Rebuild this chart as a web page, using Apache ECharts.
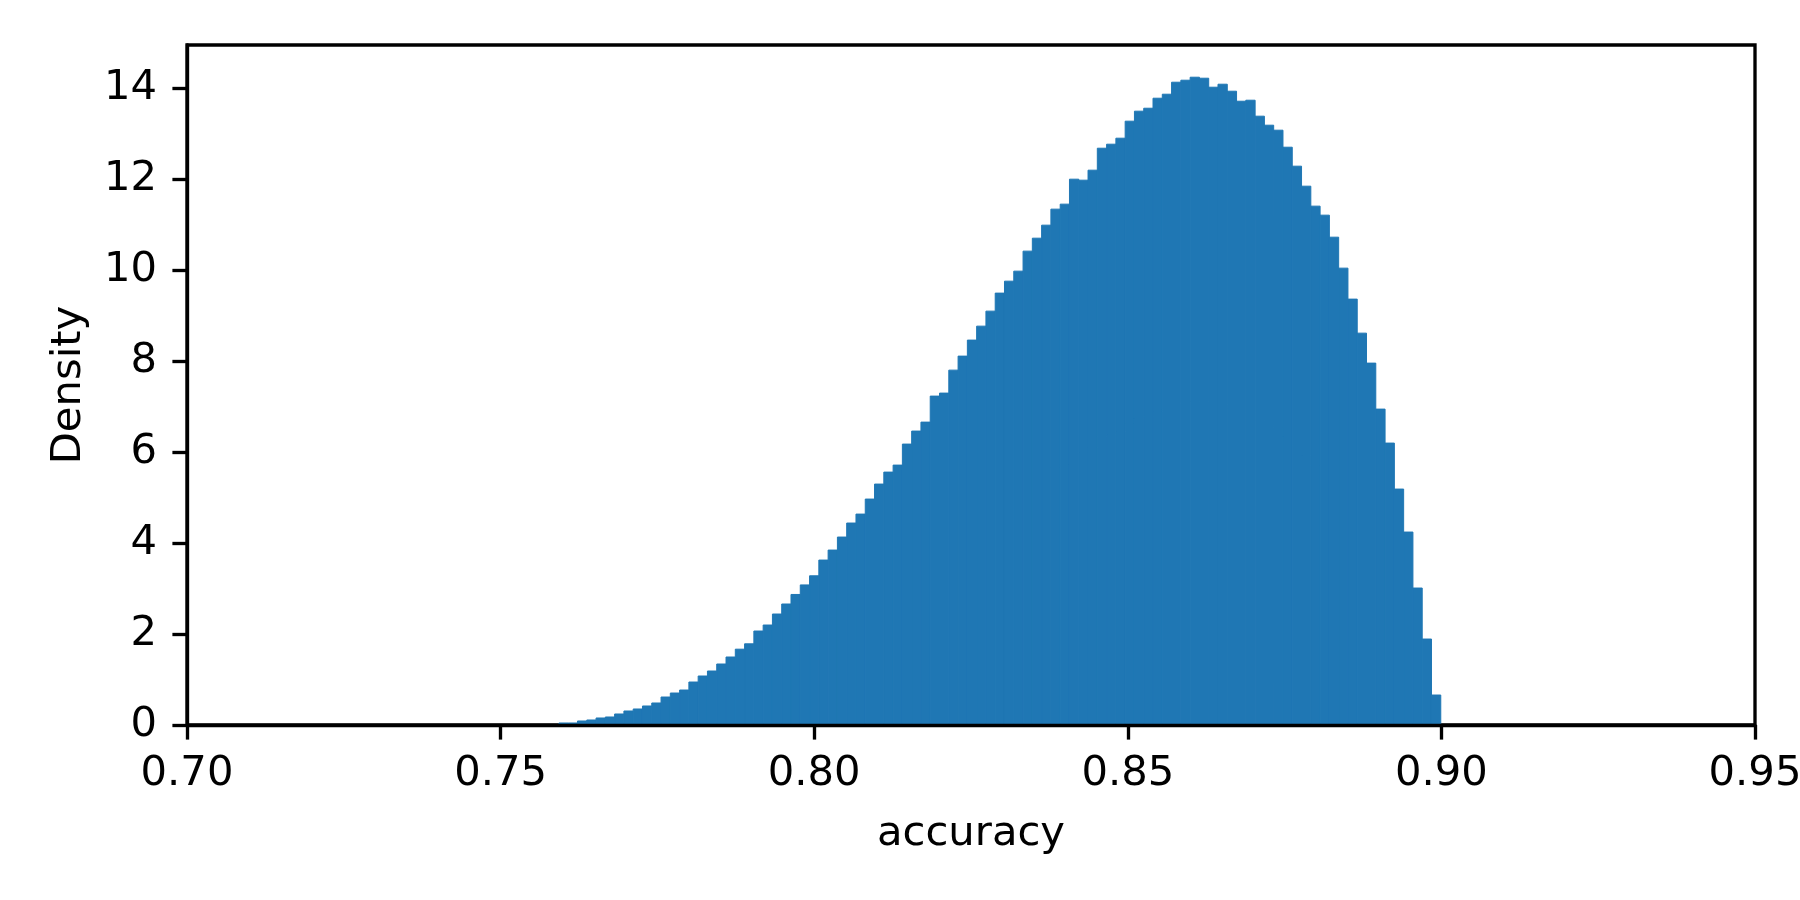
<!DOCTYPE html>
<html>
<head>
<meta charset="utf-8">
<script src="https://cdn.jsdelivr.net/npm/echarts@6/dist/echarts.min.js"></script>
<style>
html,body{margin:0;padding:0;background:#fff;}
#chart{width:1800px;height:900px;}
</style>
</head>
<body>
<div id="chart"></div>
<script>
// Histogram definition
const binStart = 0.7593;
const binWidth = 0.00148;
const densities = [
  0.044, 0.044, 0.088, 0.110, 0.154, 0.176, 0.242, 0.308, 0.352, 0.418,
  0.484, 0.615, 0.703, 0.769, 0.945, 1.077, 1.187, 1.341, 1.495, 1.667,
  1.785, 2.066, 2.198, 2.440, 2.660, 2.870, 3.080, 3.280, 3.626, 3.846,
  4.132, 4.440, 4.637, 4.967, 5.297, 5.560, 5.714, 6.176, 6.462, 6.659,
  7.231, 7.297, 7.802, 8.110, 8.462, 8.769, 9.099, 9.495, 9.758, 9.978,
  10.418, 10.703, 10.989, 11.341, 11.451, 12.000, 11.978, 12.198, 12.681, 12.769,
  12.901, 13.275, 13.495, 13.560, 13.780, 13.868, 14.132, 14.176, 14.242, 14.220,
  14.022, 14.088, 13.934, 13.714, 13.736, 13.385, 13.187, 13.077, 12.703, 12.286,
  11.846, 11.407, 11.209, 10.725, 10.044, 9.363, 8.615, 7.956, 6.945, 6.198,
  5.187, 4.242, 3.011, 1.890, 0.659
];
const xTicks = [0.70, 0.75, 0.80, 0.85, 0.90, 0.95];
const yTicks = [0, 2, 4, 6, 8, 10, 12, 14];
const xLabel = 'accuracy';
const yLabel = 'Density';

const histData = densities.map((d, i) => [binStart + i * binWidth, binStart + (i + 1) * binWidth, d]);

const FONT = 'DejaVu Sans';
const FS = 41.7;
const LW = 3.33;
const TICK = 14.6;
const BLUE = '#1f77b4';

const chart = echarts.init(document.getElementById('chart'), null, {renderer: 'canvas'});
chart.setOption({
  backgroundColor: '#ffffff',
  animation: false,
  grid: {
    left: 187, right: 45, top: 45, bottom: 175,
    containLabel: false,
    outerBoundsMode: 'none',
    show: true, borderColor: '#000', borderWidth: LW, backgroundColor: 'transparent'
  },
  xAxis: {
    type: 'value',
    min: 0.70, max: 0.95, interval: 0.05,
    z: 5,
    name: xLabel,
    nameLocation: 'middle',
    nameGap: 88,
    nameTextStyle: {fontFamily: FONT, fontSize: FS, color: '#000'},
    axisLine: {show: true, onZero: false, lineStyle: {color: '#000', width: LW}},
    axisTick: {show: true, length: TICK, lineStyle: {color: '#000', width: LW}},
    axisLabel: {
      show: true, margin: 28, color: '#000', fontFamily: FONT, fontSize: FS,
      customValues: xTicks,
      formatter: v => Number(v).toFixed(2)
    },
    splitLine: {show: false}
  },
  yAxis: {
    type: 'value',
    min: 0, max: 14.95, interval: 2,
    z: 5,
    name: yLabel,
    nameLocation: 'middle',
    nameGap: 97,
    nameRotate: 90,
    nameTextStyle: {fontFamily: FONT, fontSize: FS, color: '#000'},
    axisLine: {show: true, onZero: false, lineStyle: {color: '#000', width: LW}},
    axisTick: {show: true, length: TICK, customValues: yTicks, lineStyle: {color: '#000', width: LW}},
    axisLabel: {
      show: true, margin: 30, color: '#000', fontFamily: FONT, fontSize: FS,
      customValues: yTicks,
      formatter: v => String(v)
    },
    splitLine: {show: false}
  },
  series: [{
    type: 'custom',
    z: 2,
    data: histData,
    encode: {x: [0, 1], y: 2},
    renderItem: function (params, api) {
      const x0 = api.value(0), x1 = api.value(1), h = api.value(2);
      const p0 = api.coord([x0, 0]);
      const p1 = api.coord([x1, h]);
      return {
        type: 'rect',
        shape: {x: p0[0], y: p1[1], width: p1[0] - p0[0], height: p0[1] - p1[1]},
        style: {fill: BLUE, stroke: BLUE, lineWidth: 1}
      };
    }
  }]
});
</script>
</body>
</html>
